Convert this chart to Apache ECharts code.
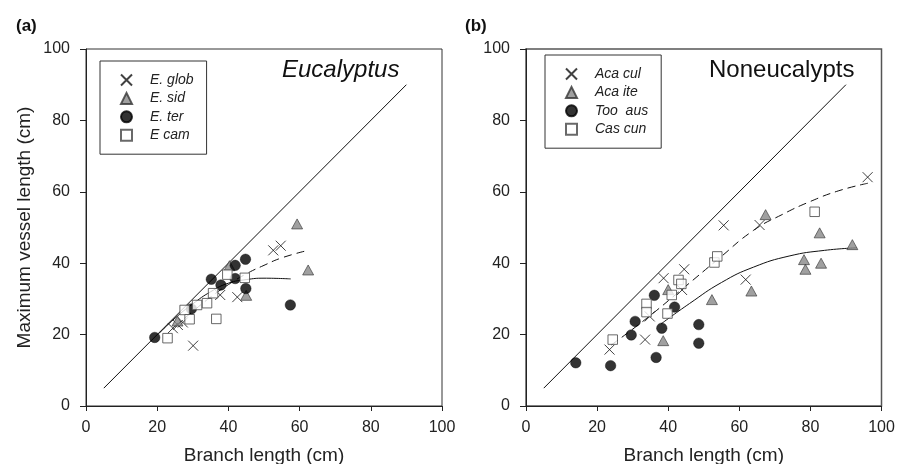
<!DOCTYPE html>
<html><head><meta charset="utf-8">
<script src="https://cdn.jsdelivr.net/npm/echarts@6/dist/echarts.min.js"></script>
<style>html,body{margin:0;padding:0;background:#fff}#c{width:907px;height:464px}</style>
</head><body><div id="c"></div>
<script>
// ---- Data ----
const xTicks = [0, 20, 40, 60, 80, 100];
const yTicks = [0, 20, 40, 60, 80, 100];
const oneToOne = [[5, 5], [90, 90]];

// Panel (a) Eucalyptus
const namesA = ['E. glob', 'E. sid', 'E. ter', 'E cam'];
const eGlob = [[24.4,21.8],[25.8,22.7],[27.2,23.4],[30.1,16.9],[37.7,31.1],[42.5,30.5],[52.6,43.6],[54.7,44.9]];
const eSid  = [[25.7,23.8],[40.3,39.3],[45.0,31.0],[59.3,51.0],[62.4,38.1]];
const eTer  = [[19.3,19.2],[29.6,27.2],[35.2,35.5],[37.9,33.9],[41.9,39.4],[41.9,35.7],[44.8,41.1],[44.9,32.9],[57.4,28.3]];
const eCam  = [[22.9,19.0],[27.7,26.9],[29.1,24.3],[31.2,28.3],[34.0,28.8],[35.7,31.6],[36.6,24.4],[39.7,36.8],[44.6,35.9]];
const aSolid  = [[20.5,20.3],[25,24.6],[30,28.6],[35,32.0],[40,34.4],[45,35.4],[50,35.8],[57.5,35.6]];
const aDashed = [[25,22.3],[30,26.5],[35,30.5],[40,34.0],[45,37.0],[50,39.4],[55,41.5],[62,43.5]];

// Panel (b) Noneucalypts
const namesB = ['Aca cul', 'Aca ite', 'Too  aus', 'Cas cun'];
const acaCul = [[23.5,15.8],[33.5,18.6],[34.8,25.1],[38.7,35.8],[43.9,32.5],[44.5,38.3],[55.6,50.6],[61.8,35.4],[65.7,50.7],[96.1,64.1]];
const acaIte = [[38.6,18.3],[40.0,32.6],[52.3,29.8],[63.4,32.2],[67.4,53.6],[78.2,41.0],[78.6,38.3],[82.6,48.5],[83.0,40.0],[91.8,45.2]];
const tooAus = [[14.0,12.1],[23.8,11.3],[29.6,19.9],[30.7,23.7],[36.1,31.0],[36.6,13.6],[38.2,21.8],[41.8,27.7],[48.6,22.8],[48.6,17.6]];
const casCun = [[24.4,18.6],[33.9,28.6],[33.9,26.3],[39.8,25.9],[41.0,31.1],[42.9,35.3],[43.7,34.2],[53.0,40.2],[53.8,41.9],[81.2,54.4]];
const bSolid  = [[38,23.0],[46,28.7],[55,34.6],[64,38.9],[74,42.0],[84,43.6],[93,44.3]];
const bDashed = [[24,17.1],[34,24.6],[44,32.8],[54,41.1],[64,49.2],[72,53.6],[80,57.3],[88,60.3],[96.2,62.4]];

// ---- Chart ----
const FONT = '"Liberation Sans", Arial, sans-serif';
const INK = '#222';
const crossPath = 'path://M0,0L10,10M10,0L0,10';

const styles = [
  {symbol: crossPath, symbolSize: 10, itemStyle: {color: 'rgba(0,0,0,0)', borderColor: '#111', borderWidth: 1}},
  {symbol: 'triangle', symbolSize: [11, 10], itemStyle: {color: '#888', borderColor: '#333', borderWidth: 0.8}},
  {symbol: 'circle', symbolSize: 10.5, itemStyle: {color: '#000', borderColor: '#000', borderWidth: 0.5}},
  {symbol: 'rect', symbolSize: 9.5, itemStyle: {color: '#fff', borderColor: '#444', borderWidth: 1}}
];

function xAxisCfg(gi, withName) {
  return {
    type: 'value', gridIndex: gi, min: 0, max: 100, interval: 20,
    name: withName ? 'Branch length (cm)' : '', nameLocation: 'middle', nameGap: 40,
    nameTextStyle: {fontFamily: FONT, fontSize: 19, color: INK},
    axisLine: {show: true, onZero: false, lineStyle: {color: INK, width: 1}},
    axisTick: {show: true, length: 5, lineStyle: {color: INK}},
    axisLabel: {fontFamily: FONT, fontSize: 16, color: INK, margin: 14},
    splitLine: {show: false}
  };
}
function yAxisCfg(gi, withName) {
  return {
    type: 'value', gridIndex: gi, min: 0, max: 100, interval: 20,
    name: withName ? 'Maximum vessel length (cm)' : '', nameLocation: 'middle', nameGap: 52,
    nameTextStyle: {fontFamily: FONT, fontSize: 19, color: INK},
    axisLine: {show: true, onZero: false, lineStyle: {color: INK, width: 1}},
    axisTick: {show: true, length: 6, lineStyle: {color: INK}},
    axisLabel: {fontFamily: FONT, fontSize: 16, color: INK, margin: 16},
    splitLine: {show: false}
  };
}

function scatterSeries(name, data, idx, gi) {
  return Object.assign({
    type: 'scatter', name: name, data: data, xAxisIndex: gi, yAxisIndex: gi, z: 3 + idx,
    emphasis: {disabled: true}
  }, JSON.parse(JSON.stringify(styles[idx])));
}
function lineSeries(data, gi, dashed, smooth) {
  return {
    type: 'line', data: data, xAxisIndex: gi, yAxisIndex: gi, showSymbol: false, symbol: 'none',
    smooth: smooth ? 0.5 : false, silent: true, z: 2,
    lineStyle: {color: '#111', width: 1, type: dashed ? [8, 5] : 'solid'}
  };
}

const legendCommon = {
  orient: 'vertical', itemWidth: 11, itemHeight: 11, itemGap: 4.4,
  padding: [12, 13, 12, 20], borderColor: '#333', borderWidth: 1, backgroundColor: '#fff',
  textStyle: {fontFamily: FONT, fontSize: 14, fontStyle: 'italic', color: INK, lineHeight: 14, padding: [0, 0, 0, 13]},
  selectedMode: false
};

const option = {
  animation: false,
  backgroundColor: '#fff',
  grid: [
    {left: 86, top: 49, width: 356, height: 357, show: true, borderColor: '#333', borderWidth: 1, backgroundColor: 'transparent', outerBoundsMode: 'none', containLabel: false},
    {left: 526, top: 49, width: 355.5, height: 357, show: true, borderColor: '#555', borderWidth: 1.5, backgroundColor: 'transparent', outerBoundsMode: 'none', containLabel: false}
  ],
  xAxis: [xAxisCfg(0, true), xAxisCfg(1, true)],
  yAxis: [yAxisCfg(0, true), yAxisCfg(1, false)],
  legend: [
    Object.assign({left: 100, top: 61, data: namesA}, legendCommon),
    Object.assign({left: 545, top: 55, data: namesB}, legendCommon)
  ],
  graphic: [
    {type: 'text', left: 16, top: 18, style: {text: '(a)', font: 'bold 17px ' + FONT, fill: '#111'}},
    {type: 'text', left: 465, top: 18, style: {text: '(b)', font: 'bold 17px ' + FONT, fill: '#111'}},
    {type: 'text', left: 282, top: 58, style: {text: 'Eucalyptus', font: 'italic 24px ' + FONT, fill: '#111'}},
    {type: 'text', left: 709, top: 58, style: {text: 'Noneucalypts', font: '24px ' + FONT, fill: '#111'}}
  ],
  series: [
    lineSeries(oneToOne, 0, false, false),
    lineSeries(aSolid, 0, false, true),
    lineSeries(aDashed, 0, true, true),
    scatterSeries(namesA[0], eGlob, 0, 0),
    scatterSeries(namesA[1], eSid, 1, 0),
    scatterSeries(namesA[2], eTer, 2, 0),
    scatterSeries(namesA[3], eCam, 3, 0),
    lineSeries(oneToOne, 1, false, false),
    lineSeries(bSolid, 1, false, true),
    lineSeries(bDashed, 1, true, true),
    scatterSeries(namesB[0], acaCul, 0, 1),
    scatterSeries(namesB[1], acaIte, 1, 1),
    scatterSeries(namesB[2], tooAus, 2, 1),
    scatterSeries(namesB[3], casCun, 3, 1)
  ]
};
const chart = echarts.init(document.getElementById('c'), null, {renderer: 'canvas'});
chart.setOption(option);
</script></body></html>
